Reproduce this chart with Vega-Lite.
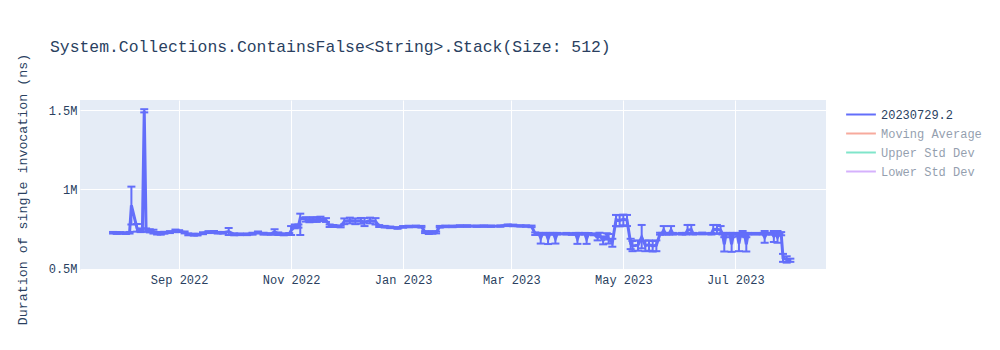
{
  "$schema": "https://vega.github.io/schema/vega-lite/v6.json",
  "width": 746,
  "height": 170,
  "autosize": "none",
  "padding": {"left": 80, "top": 100, "right": 174, "bottom": 80},
  "background": "white",
  "config": {
    "view": {"fill": "#E5ECF6", "stroke": null},
    "font": "Courier New, Liberation Mono, monospace"
  },
  "title": {
    "text": "System.Collections.ContainsFalse<String>.Stack(Size: 512)",
    "anchor": "start",
    "frame": "group",
    "dx": -30,
    "offset": -2,
    "fontSize": 16.4,
    "fontWeight": "normal",
    "color": "#2a3f5f",
    "font": "Courier New, Liberation Mono, monospace"
  },
  "data": {
    "values": [
      {"date": "2022-07-27", "value": 728000, "lo": 723000, "hi": 733000},
      {"date": "2022-07-29", "value": 726000, "lo": 721000, "hi": 731000},
      {"date": "2022-07-31", "value": 727000, "lo": 722000, "hi": 732000},
      {"date": "2022-08-03", "value": 725000, "lo": 720000, "hi": 730000},
      {"date": "2022-08-05", "value": 728000, "lo": 723000, "hi": 733000},
      {"date": "2022-08-06", "value": 900000, "lo": 780000, "hi": 1018000},
      {"date": "2022-08-09", "value": 758000, "lo": 735000, "hi": 783000},
      {"date": "2022-08-11", "value": 740000, "lo": 732000, "hi": 748000},
      {"date": "2022-08-12", "value": 745000, "lo": 735000, "hi": 755000},
      {"date": "2022-08-13", "value": 1495000, "lo": 1485000, "hi": 1505000},
      {"date": "2022-08-14", "value": 745000, "lo": 735000, "hi": 755000},
      {"date": "2022-08-16", "value": 740000, "lo": 730000, "hi": 750000},
      {"date": "2022-08-18", "value": 735000, "lo": 723000, "hi": 747000},
      {"date": "2022-08-20", "value": 725000, "lo": 717000, "hi": 733000},
      {"date": "2022-08-22", "value": 722000, "lo": 716000, "hi": 728000},
      {"date": "2022-08-24", "value": 728000, "lo": 722000, "hi": 734000},
      {"date": "2022-08-27", "value": 732000, "lo": 726000, "hi": 738000},
      {"date": "2022-08-30", "value": 740000, "lo": 732000, "hi": 748000},
      {"date": "2022-09-01", "value": 738000, "lo": 732000, "hi": 744000},
      {"date": "2022-09-04", "value": 730000, "lo": 724000, "hi": 736000},
      {"date": "2022-09-06", "value": 718000, "lo": 712000, "hi": 724000},
      {"date": "2022-09-09", "value": 716000, "lo": 710000, "hi": 722000},
      {"date": "2022-09-11", "value": 716000, "lo": 711000, "hi": 721000},
      {"date": "2022-09-14", "value": 725000, "lo": 719000, "hi": 731000},
      {"date": "2022-09-17", "value": 732000, "lo": 726000, "hi": 738000},
      {"date": "2022-09-20", "value": 733000, "lo": 727000, "hi": 739000},
      {"date": "2022-09-22", "value": 728000, "lo": 723000, "hi": 733000},
      {"date": "2022-09-25", "value": 728000, "lo": 723000, "hi": 733000},
      {"date": "2022-09-28", "value": 735000, "lo": 714000, "hi": 758000},
      {"date": "2022-10-01", "value": 718000, "lo": 712000, "hi": 724000},
      {"date": "2022-10-04", "value": 718000, "lo": 713000, "hi": 723000},
      {"date": "2022-10-08", "value": 718000, "lo": 713000, "hi": 723000},
      {"date": "2022-10-11", "value": 722000, "lo": 716000, "hi": 728000},
      {"date": "2022-10-14", "value": 730000, "lo": 724000, "hi": 736000},
      {"date": "2022-10-17", "value": 722000, "lo": 716000, "hi": 728000},
      {"date": "2022-10-21", "value": 720000, "lo": 715000, "hi": 725000},
      {"date": "2022-10-23", "value": 735000, "lo": 720000, "hi": 750000},
      {"date": "2022-10-25", "value": 722000, "lo": 714000, "hi": 730000},
      {"date": "2022-10-28", "value": 718000, "lo": 712000, "hi": 724000},
      {"date": "2022-10-31", "value": 720000, "lo": 714000, "hi": 726000},
      {"date": "2022-11-01", "value": 742000, "lo": 714000, "hi": 770000},
      {"date": "2022-11-03", "value": 768000, "lo": 756000, "hi": 780000},
      {"date": "2022-11-05", "value": 770000, "lo": 760000, "hi": 780000},
      {"date": "2022-11-06", "value": 820000, "lo": 714000, "hi": 848000},
      {"date": "2022-11-09", "value": 812000, "lo": 798000, "hi": 826000},
      {"date": "2022-11-11", "value": 808000, "lo": 794000, "hi": 822000},
      {"date": "2022-11-13", "value": 812000, "lo": 798000, "hi": 826000},
      {"date": "2022-11-15", "value": 810000, "lo": 796000, "hi": 824000},
      {"date": "2022-11-17", "value": 815000, "lo": 801000, "hi": 829000},
      {"date": "2022-11-20", "value": 808000, "lo": 796000, "hi": 820000},
      {"date": "2022-11-22", "value": 772000, "lo": 764000, "hi": 780000},
      {"date": "2022-11-24", "value": 770000, "lo": 764000, "hi": 776000},
      {"date": "2022-11-28", "value": 768000, "lo": 762000, "hi": 774000},
      {"date": "2022-11-30", "value": 800000, "lo": 782000, "hi": 818000},
      {"date": "2022-12-03", "value": 805000, "lo": 787000, "hi": 823000},
      {"date": "2022-12-06", "value": 800000, "lo": 782000, "hi": 818000},
      {"date": "2022-12-09", "value": 803000, "lo": 785000, "hi": 821000},
      {"date": "2022-12-11", "value": 795000, "lo": 770000, "hi": 820000},
      {"date": "2022-12-14", "value": 805000, "lo": 787000, "hi": 823000},
      {"date": "2022-12-17", "value": 800000, "lo": 780000, "hi": 820000},
      {"date": "2022-12-19", "value": 770000, "lo": 764000, "hi": 776000},
      {"date": "2022-12-22", "value": 766000, "lo": 761000, "hi": 771000},
      {"date": "2022-12-25", "value": 762000, "lo": 757000, "hi": 767000},
      {"date": "2022-12-29", "value": 758000, "lo": 753000, "hi": 763000},
      {"date": "2023-01-01", "value": 765000, "lo": 760000, "hi": 770000},
      {"date": "2023-01-04", "value": 767000, "lo": 762000, "hi": 772000},
      {"date": "2023-01-08", "value": 768000, "lo": 763000, "hi": 773000},
      {"date": "2023-01-11", "value": 766000, "lo": 761000, "hi": 771000},
      {"date": "2023-01-13", "value": 732000, "lo": 726000, "hi": 738000},
      {"date": "2023-01-15", "value": 728000, "lo": 720000, "hi": 736000},
      {"date": "2023-01-17", "value": 730000, "lo": 722000, "hi": 738000},
      {"date": "2023-01-19", "value": 730000, "lo": 724000, "hi": 736000},
      {"date": "2023-01-21", "value": 766000, "lo": 761000, "hi": 771000},
      {"date": "2023-01-24", "value": 768000, "lo": 763000, "hi": 773000},
      {"date": "2023-01-28", "value": 768000, "lo": 763000, "hi": 773000},
      {"date": "2023-02-01", "value": 770000, "lo": 765000, "hi": 775000},
      {"date": "2023-02-05", "value": 770000, "lo": 765000, "hi": 775000},
      {"date": "2023-02-10", "value": 769000, "lo": 765000, "hi": 773000},
      {"date": "2023-02-14", "value": 770000, "lo": 766000, "hi": 774000},
      {"date": "2023-02-18", "value": 769000, "lo": 765000, "hi": 773000},
      {"date": "2023-02-23", "value": 770000, "lo": 766000, "hi": 774000},
      {"date": "2023-02-27", "value": 775000, "lo": 770000, "hi": 780000},
      {"date": "2023-03-02", "value": 774000, "lo": 769000, "hi": 779000},
      {"date": "2023-03-06", "value": 771000, "lo": 767000, "hi": 775000},
      {"date": "2023-03-09", "value": 770000, "lo": 766000, "hi": 774000},
      {"date": "2023-03-12", "value": 768000, "lo": 763000, "hi": 773000},
      {"date": "2023-03-14", "value": 722000, "lo": 714000, "hi": 730000},
      {"date": "2023-03-16", "value": 722000, "lo": 717000, "hi": 727000},
      {"date": "2023-03-17", "value": 695000, "lo": 660000, "hi": 725000},
      {"date": "2023-03-18", "value": 722000, "lo": 717000, "hi": 727000},
      {"date": "2023-03-20", "value": 722000, "lo": 717000, "hi": 727000},
      {"date": "2023-03-21", "value": 690000, "lo": 657000, "hi": 722000},
      {"date": "2023-03-22", "value": 722000, "lo": 717000, "hi": 727000},
      {"date": "2023-03-24", "value": 722000, "lo": 717000, "hi": 727000},
      {"date": "2023-03-25", "value": 692000, "lo": 660000, "hi": 724000},
      {"date": "2023-03-26", "value": 722000, "lo": 717000, "hi": 727000},
      {"date": "2023-03-31", "value": 722000, "lo": 717000, "hi": 727000},
      {"date": "2023-04-03", "value": 720000, "lo": 715000, "hi": 725000},
      {"date": "2023-04-05", "value": 722000, "lo": 717000, "hi": 727000},
      {"date": "2023-04-06", "value": 690000, "lo": 658000, "hi": 722000},
      {"date": "2023-04-07", "value": 722000, "lo": 717000, "hi": 727000},
      {"date": "2023-04-10", "value": 722000, "lo": 717000, "hi": 727000},
      {"date": "2023-04-11", "value": 690000, "lo": 658000, "hi": 722000},
      {"date": "2023-04-12", "value": 722000, "lo": 717000, "hi": 727000},
      {"date": "2023-04-15", "value": 718000, "lo": 712000, "hi": 724000},
      {"date": "2023-04-17", "value": 700000, "lo": 680000, "hi": 722000},
      {"date": "2023-04-18", "value": 715000, "lo": 700000, "hi": 728000},
      {"date": "2023-04-20", "value": 680000, "lo": 655000, "hi": 705000},
      {"date": "2023-04-22", "value": 705000, "lo": 685000, "hi": 725000},
      {"date": "2023-04-23", "value": 690000, "lo": 660000, "hi": 720000},
      {"date": "2023-04-25", "value": 665000, "lo": 640000, "hi": 690000},
      {"date": "2023-04-27", "value": 810000, "lo": 770000, "hi": 840000},
      {"date": "2023-04-29", "value": 805000, "lo": 768000, "hi": 838000},
      {"date": "2023-05-01", "value": 812000, "lo": 775000, "hi": 842000},
      {"date": "2023-05-03", "value": 808000, "lo": 770000, "hi": 840000},
      {"date": "2023-05-05", "value": 660000, "lo": 625000, "hi": 690000},
      {"date": "2023-05-06", "value": 645000, "lo": 612000, "hi": 676000},
      {"date": "2023-05-09", "value": 650000, "lo": 615000, "hi": 680000},
      {"date": "2023-05-11", "value": 700000, "lo": 630000, "hi": 777000},
      {"date": "2023-05-13", "value": 648000, "lo": 612000, "hi": 678000},
      {"date": "2023-05-15", "value": 652000, "lo": 615000, "hi": 680000},
      {"date": "2023-05-17", "value": 645000, "lo": 610000, "hi": 676000},
      {"date": "2023-05-19", "value": 650000, "lo": 612000, "hi": 680000},
      {"date": "2023-05-21", "value": 722000, "lo": 716000, "hi": 728000},
      {"date": "2023-05-22", "value": 722000, "lo": 717000, "hi": 727000},
      {"date": "2023-05-23", "value": 745000, "lo": 722000, "hi": 770000},
      {"date": "2023-05-24", "value": 722000, "lo": 717000, "hi": 727000},
      {"date": "2023-05-26", "value": 722000, "lo": 717000, "hi": 727000},
      {"date": "2023-05-27", "value": 745000, "lo": 722000, "hi": 770000},
      {"date": "2023-05-28", "value": 722000, "lo": 717000, "hi": 727000},
      {"date": "2023-06-02", "value": 722000, "lo": 717000, "hi": 727000},
      {"date": "2023-06-04", "value": 722000, "lo": 717000, "hi": 727000},
      {"date": "2023-06-05", "value": 745000, "lo": 722000, "hi": 777000},
      {"date": "2023-06-07", "value": 748000, "lo": 725000, "hi": 777000},
      {"date": "2023-06-08", "value": 722000, "lo": 717000, "hi": 727000},
      {"date": "2023-06-13", "value": 724000, "lo": 719000, "hi": 729000},
      {"date": "2023-06-18", "value": 722000, "lo": 717000, "hi": 727000},
      {"date": "2023-06-19", "value": 748000, "lo": 722000, "hi": 777000},
      {"date": "2023-06-21", "value": 750000, "lo": 722000, "hi": 777000},
      {"date": "2023-06-23", "value": 745000, "lo": 722000, "hi": 770000},
      {"date": "2023-06-24", "value": 722000, "lo": 717000, "hi": 727000},
      {"date": "2023-06-25", "value": 655000, "lo": 610000, "hi": 700000},
      {"date": "2023-06-26", "value": 722000, "lo": 717000, "hi": 727000},
      {"date": "2023-06-28", "value": 722000, "lo": 717000, "hi": 727000},
      {"date": "2023-06-29", "value": 655000, "lo": 608000, "hi": 700000},
      {"date": "2023-06-30", "value": 722000, "lo": 717000, "hi": 727000},
      {"date": "2023-07-02", "value": 722000, "lo": 717000, "hi": 727000},
      {"date": "2023-07-03", "value": 660000, "lo": 612000, "hi": 705000},
      {"date": "2023-07-04", "value": 722000, "lo": 717000, "hi": 727000},
      {"date": "2023-07-05", "value": 722000, "lo": 705000, "hi": 739000},
      {"date": "2023-07-06", "value": 722000, "lo": 717000, "hi": 727000},
      {"date": "2023-07-07", "value": 655000, "lo": 610000, "hi": 700000},
      {"date": "2023-07-08", "value": 722000, "lo": 717000, "hi": 727000},
      {"date": "2023-07-12", "value": 722000, "lo": 717000, "hi": 727000},
      {"date": "2023-07-16", "value": 722000, "lo": 717000, "hi": 727000},
      {"date": "2023-07-17", "value": 700000, "lo": 665000, "hi": 739000},
      {"date": "2023-07-18", "value": 722000, "lo": 717000, "hi": 727000},
      {"date": "2023-07-21", "value": 722000, "lo": 717000, "hi": 727000},
      {"date": "2023-07-22", "value": 705000, "lo": 670000, "hi": 739000},
      {"date": "2023-07-23", "value": 722000, "lo": 717000, "hi": 727000},
      {"date": "2023-07-24", "value": 700000, "lo": 665000, "hi": 739000},
      {"date": "2023-07-25", "value": 722000, "lo": 717000, "hi": 727000},
      {"date": "2023-07-26", "value": 722000, "lo": 712000, "hi": 732000},
      {"date": "2023-07-27", "value": 570000, "lo": 545000, "hi": 595000},
      {"date": "2023-07-29", "value": 560000, "lo": 540000, "hi": 580000},
      {"date": "2023-07-31", "value": 555000, "lo": 545000, "hi": 565000}
    ]
  },
  "encoding": {
    "x": {
      "field": "date",
      "type": "temporal",
      "title": null,
      "scale": {
        "type": "utc",
        "domain": [
          {"year": 2022, "month": 7, "date": 9, "utc": true},
          {"year": 2023, "month": 8, "date": 19, "hours": 10, "utc": true}
        ]
      },
      "axis": {
        "values": [
          {"year": 2022, "month": 9, "date": 1, "utc": true},
          {"year": 2022, "month": 11, "date": 1, "utc": true},
          {"year": 2023, "month": 1, "date": 1, "utc": true},
          {"year": 2023, "month": 3, "date": 1, "utc": true},
          {"year": 2023, "month": 5, "date": 1, "utc": true},
          {"year": 2023, "month": 7, "date": 1, "utc": true}
        ],
        "format": "%b %Y",
        "grid": true,
        "gridColor": "white",
        "gridWidth": 1,
        "domain": false,
        "ticks": false,
        "labelPadding": 4,
        "labelFontSize": 12,
        "labelColor": "#2a3f5f",
        "labelFont": "Courier New, Liberation Mono, monospace"
      }
    }
  },
  "layer": [
    {
      "mark": {"type": "rule", "color": "#636efa", "strokeWidth": 2},
      "encoding": {
        "y": {"field": "lo", "type": "quantitative", "title": "Duration of single invocation (ns)", "scale": {"domain": [493700, 1562900], "nice": false, "zero": false}},
        "y2": {"field": "hi"}
      }
    },
    {
      "mark": {"type": "tick", "color": "#636efa", "orient": "horizontal", "size": 8, "thickness": 2, "opacity": 1},
      "encoding": {
        "y": {"field": "lo", "type": "quantitative", "title": "Duration of single invocation (ns)"}
      }
    },
    {
      "mark": {"type": "tick", "color": "#636efa", "orient": "horizontal", "size": 8, "thickness": 2, "opacity": 1},
      "encoding": {
        "y": {"field": "hi", "type": "quantitative", "title": "Duration of single invocation (ns)"}
      }
    },
    {
      "mark": {"type": "line", "strokeWidth": 3},
      "encoding": {
        "y": {
          "field": "value",
          "type": "quantitative",
          "title": "Duration of single invocation (ns)",
          "axis": {
            "values": [500000, 1000000, 1500000],
            "labelExpr": "datum.value / 1000000 + 'M'",
            "grid": true,
            "gridColor": "white",
            "gridWidth": 1,
            "domain": false,
            "ticks": false,
            "labelPadding": 3,
            "labelFontSize": 12,
            "labelColor": "#2a3f5f",
            "labelFont": "Courier New, Liberation Mono, monospace",
            "titleFont": "Courier New, Liberation Mono, monospace",
            "titleFontSize": 13.3,
            "titleFontWeight": "normal",
            "titleColor": "#2a3f5f",
            "titleAngle": -90,
            "titleAlign": "center",
            "titleBaseline": "middle",
            "titleX": -57.3,
            "titleY": 89
          }
        },
        "color": {
          "datum": "20230729.2",
          "type": "nominal",
          "scale": {
            "domain": ["20230729.2", "Moving Average", "Upper Std Dev", "Lower Std Dev"],
            "range": ["#636efa", "#f7aa9d", "#80e5ca", "#d5b1fc"]
          },
          "legend": {
            "title": null,
            "orient": "none",
            "legendX": 771.5,
            "legendY": 5,
            "padding": 0,
            "rowPadding": 3,
            "symbolType": "M-1.75,0H1.75",
            "symbolSize": 289,
            "symbolStrokeWidth": 2,
            "labelFontSize": 12,
            "labelFont": "Courier New, Liberation Mono, monospace",
            "labelColor": "#2a3f5f",
            "labelOffset": 10.5,
            "encode": {
              "labels": {"update": {"opacity": {"signal": "datum.value === '20230729.2' ? 1 : 0.5"}}}
            }
          }
        }
      }
    }
  ]
}
